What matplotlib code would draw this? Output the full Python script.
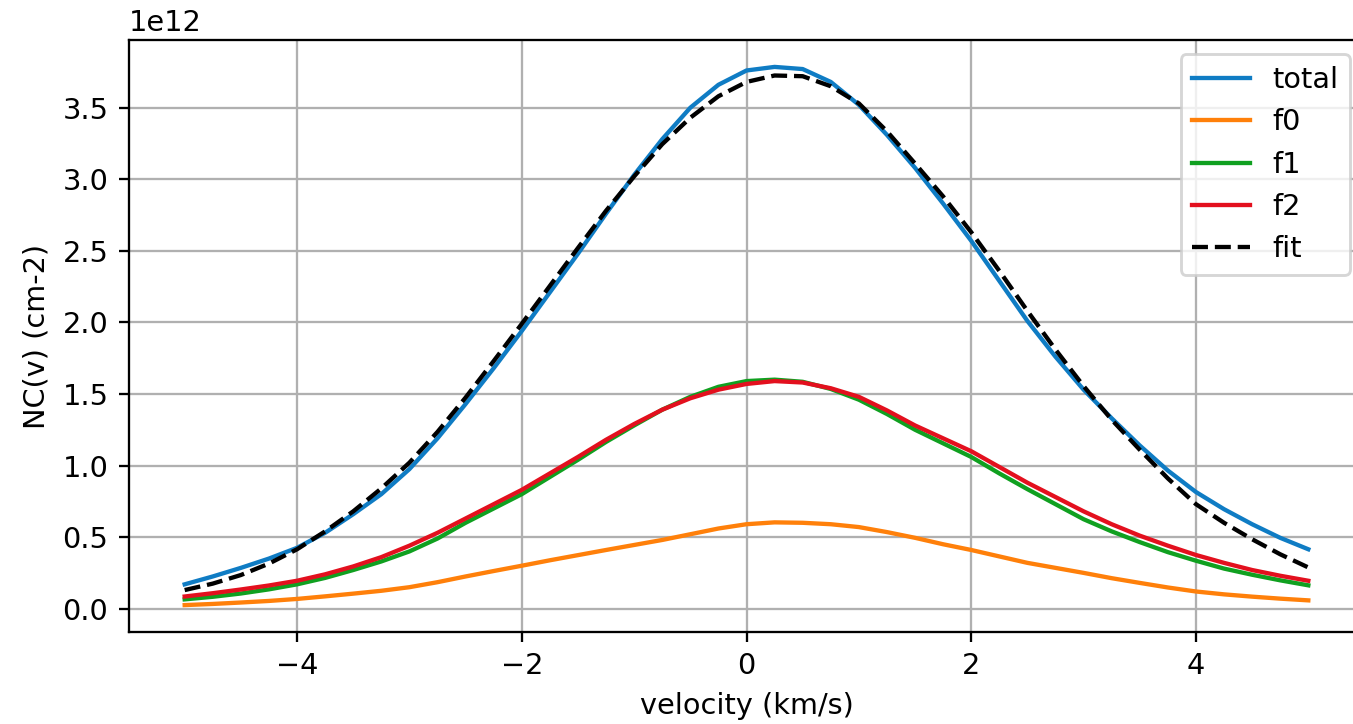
import numpy as np
import matplotlib.pyplot as plt

# Velocity grid (km/s)
velocity = [-5.0, -4.75, -4.5, -4.25, -4.0, -3.75, -3.5, -3.25, -3.0, -2.75,
            -2.5, -2.25, -2.0, -1.75, -1.5, -1.25, -1.0, -0.75, -0.5, -0.25,
            0.0, 0.25, 0.5, 0.75, 1.0, 1.25, 1.5, 1.75, 2.0, 2.25,
            2.5, 2.75, 3.0, 3.25, 3.5, 3.75, 4.0, 4.25, 4.5, 4.75, 5.0]

# Column densities, in units of 1e12 cm-2
total = [0.17, 0.225, 0.285, 0.35, 0.425, 0.53, 0.66, 0.80, 0.975, 1.19,
         1.43, 1.68, 1.94, 2.21, 2.48, 2.76, 3.03, 3.28, 3.50, 3.66,
         3.76, 3.785, 3.77, 3.68, 3.52, 3.31, 3.08, 2.83, 2.57, 2.29,
         2.01, 1.76, 1.53, 1.33, 1.14, 0.965, 0.815, 0.695, 0.59, 0.495, 0.415]
f0 = [0.025, 0.033, 0.043, 0.054, 0.068, 0.086, 0.105, 0.125, 0.15, 0.185,
      0.225, 0.263, 0.30, 0.338, 0.374, 0.41, 0.445, 0.48, 0.52, 0.56,
      0.59, 0.603, 0.60, 0.59, 0.57, 0.535, 0.495, 0.45, 0.41, 0.365,
      0.32, 0.285, 0.25, 0.213, 0.18, 0.148, 0.12, 0.10, 0.084, 0.07, 0.058]
f1 = [0.065, 0.083, 0.106, 0.135, 0.17, 0.215, 0.27, 0.33, 0.40, 0.49,
      0.60, 0.70, 0.80, 0.92, 1.04, 1.165, 1.28, 1.39, 1.48, 1.55,
      1.59, 1.60, 1.585, 1.535, 1.46, 1.36, 1.25, 1.155, 1.06, 0.945,
      0.835, 0.73, 0.625, 0.54, 0.465, 0.395, 0.335, 0.28, 0.237, 0.198, 0.163]
f2 = [0.085, 0.108, 0.134, 0.162, 0.195, 0.24, 0.295, 0.36, 0.44, 0.53,
      0.63, 0.73, 0.83, 0.945, 1.06, 1.18, 1.29, 1.39, 1.47, 1.53,
      1.57, 1.59, 1.58, 1.54, 1.48, 1.385, 1.28, 1.19, 1.10, 0.99,
      0.88, 0.78, 0.68, 0.59, 0.51, 0.44, 0.375, 0.32, 0.27, 0.23, 0.195]
fit = [0.13, 0.175, 0.235, 0.315, 0.415, 0.54, 0.68, 0.84, 1.02, 1.235,
       1.475, 1.73, 1.99, 2.255, 2.52, 2.78, 3.02, 3.245, 3.43, 3.58,
       3.68, 3.725, 3.72, 3.65, 3.53, 3.335, 3.11, 2.88, 2.63, 2.36,
       2.08, 1.81, 1.555, 1.32, 1.11, 0.91, 0.73, 0.60, 0.485, 0.38, 0.288]

scale = 1e12
dpi = 207

fig = plt.figure(figsize=(1353 / dpi, 724 / dpi), dpi=dpi)
ax = fig.add_axes([128.5 / 1353, 92 / 724, 1236 / 1353, 592 / 724])

x = np.array(velocity)
ax.plot(x, np.array(total) * scale, color='#0f7cc4', label='total')
ax.plot(x, np.array(f0) * scale, color='#ff800a', label='f0')
ax.plot(x, np.array(f1) * scale, color='#10a020', label='f1')
ax.plot(x, np.array(f2) * scale, color='#e3101e', label='f2')
ax.plot(x, np.array(fit) * scale, 'k--', label='fit')

ax.set_xlabel("velocity (km/s)")
ax.set_ylabel("NC(v) (cm-2)")
ax.grid(True)
ax.legend(loc='upper right')

fig.savefig('out.png', dpi=dpi)
